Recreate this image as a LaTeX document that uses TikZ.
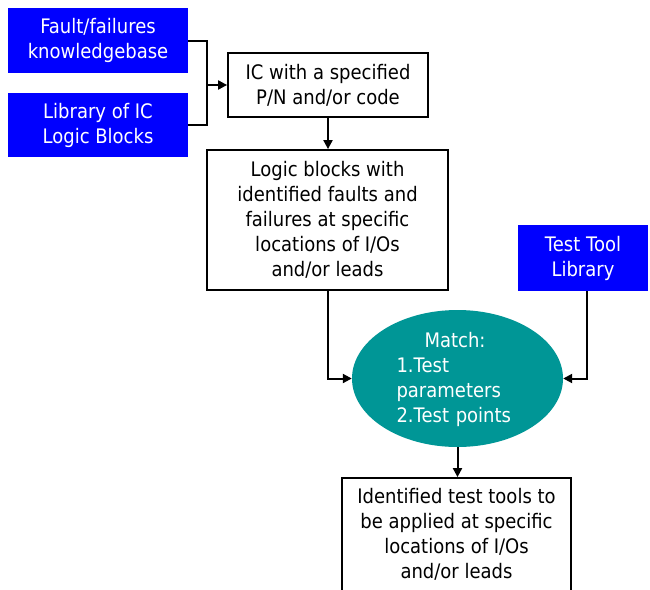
\documentclass[tikz,border=0pt]{standalone}
\usepackage{fontspec}
\setmainfont[FakeStretch=0.9]{DejaVu Sans}
\usetikzlibrary{arrows.meta,shapes.geometric}
\definecolor{boxblue}{RGB}{0,0,255}
\definecolor{tealfill}{RGB}{0,150,150}
\tikzset{
  every node/.style={font=\fontsize{20}{25}\selectfont, inner sep=0pt, align=center},
  bluebox/.style={rectangle, fill=boxblue, text=white},
  whitebox/.style={rectangle, draw=black, line width=1.8pt, fill=white, text=black},
  matchshape/.style={ellipse, fill=tealfill},
  plaintext/.style={text=black},
  conn/.style={line width=2pt, draw=black},
  arr/.style={conn, -{Triangle[length=9pt,width=9pt]}}
}
\begin{document}
\begin{tikzpicture}[x=1pt,y=-1pt]
\useasboundingbox[fill=white] (0,0) rectangle (650,589);
\node[bluebox, minimum width=180pt, minimum height=65pt] (fkb) at (98,40.5) {Fault/failures\\knowledgebase};
\node[bluebox, minimum width=180pt, minimum height=64pt] (lib) at (98,125) {Library of IC\\Logic Blocks};
\node[whitebox, minimum width=200pt, minimum height=64pt] (ic) at (328,85) {IC with a specified\\P/N and/or code};
\node[whitebox, minimum width=241pt, minimum height=140pt] (logic) at (327.5,220) {Logic blocks with\\identified faults and\\failures at specific\\locations of I/Os\\and/or leads};
\node[bluebox, minimum width=130pt, minimum height=66pt] (ttl) at (583,258) {Test Tool\\Library};
\node[matchshape, minimum width=211pt, minimum height=137pt] (match) at (457.5,378.5) {};
\node[text=white, text width=117pt, align=left] (matchtext) at (455,379) {\hfill Match:\hfill\null\\1.Test\\parameters\\2.Test points};
\node[whitebox, minimum width=229pt, minimum height=122pt] (result) at (456.5,539) {};
\node[plaintext] (resulttext) at (456.5,534) {Identified test tools to\\be applied at specific\\locations of I/Os\\and/or leads};
\coordinate (join) at (207,85);
\draw[conn] (fkb.east) -| (join);
\draw[conn] (lib.east) -| (join);
\draw[arr] (join) -- (ic.west);
\draw[arr] (ic.south) -- (ic.south |- logic.north);
\draw[arr] (logic.south) |- (match.west);
\draw[arr] ([xshift=4pt]ttl.south) |- (match.east);
\draw[arr] (match.south) -- (match.south |- result.north);
\end{tikzpicture}
\end{document}
